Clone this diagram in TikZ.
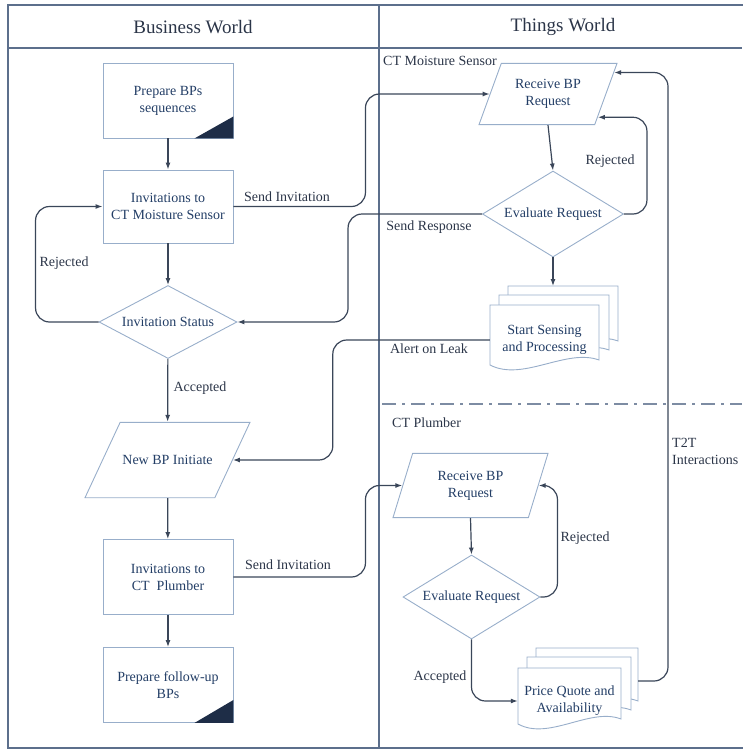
\documentclass[tikz,border=0pt]{standalone}
\usepackage{fontspec}
\setmainfont{Liberation Serif}
\newfontfamily\flowfont{Liberation Serif}
\usetikzlibrary{shapes.geometric,arrows.meta}
\definecolor{lane}{HTML}{5C6F8C}
\definecolor{nodeline}{HTML}{98AECA}
\definecolor{nodetext}{HTML}{233E66}
\definecolor{labeltext}{HTML}{2B3548}
\definecolor{conn}{HTML}{3A4659}
\definecolor{cornerfill}{HTML}{1E2D47}

\newcommand\docpage[4]{%
  \filldraw[docline] (#1,#2) -- (#1+#3,#2) -- (#1+#3,#2+#4-5)
    .. controls (#1+0.7*#3,#2+#4-17) and (#1+0.3*#3,#2+#4+17) .. (#1,#2+#4) -- cycle;}

\begin{document}
\begin{tikzpicture}[x=1pt,y=-1pt]
      \tikzset{
        every node/.style={font=\flowfont\fontsize{14}{17}\selectfont,align=center,text=nodetext,inner sep=0pt},
        box/.style={rectangle,draw=nodeline,line width=0.9pt,minimum width=130,minimum height=75},
        choice/.style={diamond,draw=nodeline,line width=0.9pt,aspect=2},
        io/.style={trapezium,draw=nodeline,line width=0.9pt,trapezium stretches body=true},
        docline/.style={draw=nodeline,line width=0.9pt,fill=white},
        lbl/.style={text=labeltext},
        flow/.style={draw=conn,line width=1.2pt,rounded corners=14,-{Latex[length=7pt,width=5pt]}},
        corner/.style={fill=cornerfill}
      }

      \useasboundingbox (0,0) rectangle (742,750);
      \draw[lane,line width=1.2pt] (8,5) rectangle (746,748);
      \draw[lane,line width=1.2pt] (8,48) -- (742,48);
      \draw[lane,line width=1.2pt] (379,5) -- (379,748);
      \draw[lane!80,line width=1.1pt,dash pattern=on 14pt off 6pt on 3pt off 6pt] (382,404) -- (742,404);

      \node[lbl,font=\flowfont\fontsize{19}{22}\selectfont] (bw) at (193,27) {Business World};
      \node[lbl,font=\flowfont\fontsize{19}{22}\selectfont] (tw) at (563,27) {Things World};

      \node[box] (prep) at (168,100.5) {Prepare BPs\\sequences};
      \node[box,minimum height=73] (inv1) at (168,206.5) {Invitations to\\CT Moisture Sensor};
      \node[choice,minimum width=138,minimum height=73] (stat) at (168,322) {Invitation Status};
      \node[io,trapezium left angle=65,trapezium right angle=115,inner ysep=33,minimum width=165] (newbp) at (167.5,460) {New BP Initiate};
      \node[box] (inv2) at (168,577) {Invitations to\\CT~ Plumber};
      \node[box] (follow) at (168,685) {Prepare follow-up\\BPs};
      \fill[corner] (prep.south east) -- ++(-39,0) -- ++(39,-22) -- cycle;
      \fill[corner] (follow.south east) -- ++(-39,0) -- ++(39,-23) -- cycle;

      \node[lbl,anchor=west] (ms) at (383,61) {CT Moisture Sensor};
      \node[io,trapezium left angle=70,trapezium right angle=110,inner ysep=16,minimum width=138] (recv1) at (548,94) {Receive BP\\Request};
      \node[choice,minimum width=141,minimum height=86] (eval1) at (553,214) {Evaluate Request};
      \docpage{508}{286}{110}{60}
      \docpage{499}{295}{110}{60}
      \docpage{490}{305}{109}{60}
      \coordinate (sensetop) at (553,286);
      \node[minimum width=109,minimum height=70] (sense) at (544.5,340) {Start Sensing\\and Processing};

      \node[lbl,anchor=west] (pl) at (392,423) {CT Plumber};
      \node[lbl,anchor=west,align=left] (t2t) at (672,451) {T2T\\Interactions};
      \node[io,trapezium left angle=73,trapezium right angle=107,inner ysep=17.5,minimum width=155] (recv2) at (470.5,485.5) {Receive BP\\Request};
      \node[choice,minimum width=137,minimum height=84] (eval2) at (471.5,597) {Evaluate Request};
      \docpage{536}{648}{102}{58}
      \docpage{527}{657}{104}{58}
      \docpage{518}{668}{103}{56}
      \coordinate (quoteback) at (638,681);
      \node[minimum width=103,minimum height=67] (quote) at (569.5,701) {Price Quote and\\Availability};

      \draw[flow] (prep) -- (inv1);
      \draw[flow] (inv1) -- (stat);
      \draw[flow] (stat) -- (newbp);
      \draw[flow] (newbp) -- (inv2);
      \draw[flow] (inv2) -- (follow);
      \draw[flow] (stat.west) -- ++(-63,0) |- (inv1.west);
      \draw[flow] (inv1.east) -- ++(132,0) |- (recv1.west);
      \draw[flow] (recv1.south) -- (eval1.north);
      \draw[flow] (eval1.east) -- ++(23,0) |- (recv1.-25);
      \draw[flow] (eval1.west) -- ++(-134,0) |- (stat.east);
      \draw[flow] (eval1.south) -- (sensetop);
      \draw[flow] (sense.west) -- ++(-157,0) |- (newbp.east);
      \draw[flow] (inv2.east) -- ++(132,0) |- (recv2.west);
      \draw[flow] (recv2.south) -- (eval2.north);
      \draw[flow] (eval2.east) -- ++(17,0) |- (recv2.east);
      \draw[flow] (eval2.south) |- (quote.west);
      \draw[flow] (quoteback) -- ++(30,0) |- (recv1.18);

      \node[lbl] (l1) at (287,197) {Send Invitation};
      \node[lbl] (l2) at (64,263) {Rejected};
      \node[lbl] (l3) at (200,388) {Accepted};
      \node[lbl] (l4) at (610,161) {Rejected};
      \node[lbl] (l5) at (429,227) {Send Response};
      \node[lbl] (l6) at (429,349) {Alert on Leak};
      \node[lbl] (l7) at (288,565) {Send Invitation};
      \node[lbl] (l8) at (585,538) {Rejected};
      \node[lbl] (l9) at (440,677) {Accepted};
    \end{tikzpicture}
\end{document}
